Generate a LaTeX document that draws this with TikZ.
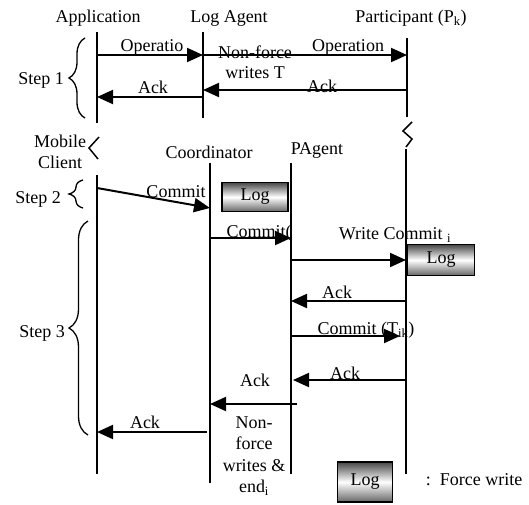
\documentclass[tikz,border=0pt]{standalone}
\usepackage{fontspec}
\setmainfont{Liberation Serif}
\usetikzlibrary{arrows.meta,decorations.pathreplacing}
\begin{document}
\begin{tikzpicture}[x=1pt,y=-1pt,
  every node/.style={font=\fontsize{18}{21.5}\selectfont, inner sep=0pt},
  life/.style={line width=1.5pt},
  msg/.style={line width=2pt,-{Triangle[length=16pt,width=14pt]}},
  logbox/.style={draw,line width=1.6pt,top color=black!72,bottom color=black!60,middle color=white,inner sep=0pt},
  stepbrace/.style={decorate,decoration={brace,amplitude=#1},line width=1.3pt},
  zig/.style={line width=1.5pt}
]
\useasboundingbox (0,0) rectangle (529,504);

% headers
\node (happ) at (98,18) {Application};
\node (hlag) at (229,18) {Log Agent};
\node (hpar) at (411,18) {Participant (P\textsubscript{k})};
\node[align=center] (hmob) at (60,152) {Mobile\\Client};
\node (hcoo) at (209,152) {Coordinator};
\node (hpag) at (317,150) {PAgent};

% lifelines
\coordinate (appT) at (97,32);  \coordinate (appB) at (97,123);
\coordinate (lagT) at (203,32); \coordinate (lagB) at (203,118);
\coordinate (parT) at (407,38); \coordinate (parB) at (407,117);
\coordinate (mobT) at (97,175); \coordinate (mobB) at (97,474);
\coordinate (cooT) at (210,163); \coordinate (cooB) at (210,483);
\coordinate (pagT) at (291,163); \coordinate (pagB) at (291,474);
\coordinate (par2T) at (406,149); \coordinate (par2B) at (406,474);
\draw[life] (appT) -- (appB);
\draw[life] (lagT) -- (lagB);
\draw[life] (parT) -- (parB);
\draw[life] (mobT) -- (mobB);
\draw[life] (cooT) -- (cooB);
\draw[life] (pagT) -- (pagB);
\draw[life] (par2T) -- (par2B);

% break marks
\draw[zig] (99,137) -- (89,148) -- (98,159);
\draw[zig] (412,122) -- (403,131) -- (412,139) -- (406,147);

% braces and steps
\draw[stepbrace=16pt] (85,118) -- (85,38);
\node (s1) at (41,80) {Step 1};
\draw[stepbrace=14pt] (83,208) -- (83,180);
\node (s2) at (38,199) {Step 2};
\draw[stepbrace=19pt] (88,435) -- (88,221);
\node (s3) at (42,333) {Step 3};

% labels
\node (l1) at (152,47) {Operatio};
\node (l2a) at (255,52) {Non-force};
\node (l2b) at (255,73) {writes T};
\node (l2) at (348,47) {Operation};
\node (l3) at (322,86) {Ack};
\node (l4) at (153,87) {Ack};
\node (l5) at (176,192) {Commit};
\node (l6) at (259,233) {Commit(};
\node (l7) at (395,235) {Write Commit \textsubscript{i}};
\node (l8) at (337,292) {Ack};
\node (l9) at (366,330) {Commit (T\textsubscript{ik})};
\node (l10) at (345,373) {Ack};
\node (l11) at (255,380) {Ack};
\node (l12) at (145,422) {Ack};
\node[align=center] (nf) at (254,456) {Non-\\force\\writes \&\\end\textsubscript{i}};

% log boxes
\node[logbox,minimum width=66pt,minimum height=29pt] (log1) at (255,197) {Log};
\node[logbox,minimum width=67pt,minimum height=31pt] (log2) at (441,260) {Log};
\node[logbox,minimum width=55pt,minimum height=40pt] (log3) at (365,482) {Log};
\node (fw) at (474,480) {:\ \ Force write};

% message endpoints
\coordinate (m1a) at (97,55);   \coordinate (m1b) at (203,55);
\coordinate (m2b) at (407,55);
\coordinate (m3a) at (407,90);  \coordinate (m3b) at (203,90);
\coordinate (m4a) at (203,97);  \coordinate (m4b) at (97,97);
\coordinate (m5a) at (97,188);  \coordinate (m5b) at (210,208);
\coordinate (m6a) at (210,238); \coordinate (m6b) at (291,238);
\coordinate (m7a) at (291,260); \coordinate (m7b) at (406,260);
\coordinate (m8a) at (406,301); \coordinate (m8b) at (291,301);
\coordinate (m9a) at (291,336); \coordinate (m9b) at (400,336);
\coordinate (m10a) at (406,380); \coordinate (m10b) at (293,380);
\coordinate (m11a) at (297,404); \coordinate (m11b) at (210,404);
\coordinate (m12a) at (207,432); \coordinate (m12b) at (97,432);

\draw[msg] (m1a) -- (m1b);
\draw[msg] (m1b) -- (m2b);
\draw[msg] (m3a) -- (m3b);
\draw[msg] (m4a) -- (m4b);
\draw[msg] (m5a) -- (m5b);
\draw[msg] (m6a) -- (m6b);
\draw[msg] (m7a) -- (m7b);
\draw[msg] (m8a) -- (m8b);
\draw[msg] (m9a) -- (m9b);
\draw[msg] (m10a) -- (m10b);
\draw[msg] (m11a) -- (m11b);
\draw[msg] (m12a) -- (m12b);
\end{tikzpicture}
\end{document}
